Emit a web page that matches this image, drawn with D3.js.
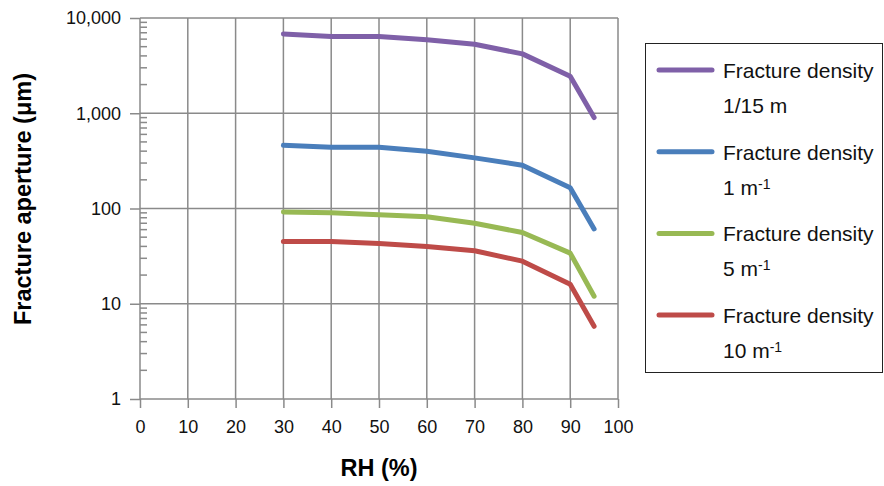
<!DOCTYPE html>
<html>
<head>
<meta charset="utf-8">
<script src="https://cdn.jsdelivr.net/npm/d3@7"></script>
<style>
  body { margin: 0; background: #fff; }
  svg { font-family: "Liberation Sans", Arial, sans-serif; }
</style>
</head>
<body>
<svg id="chart" width="884" height="486"></svg>
<script>
const rh = [30, 40, 50, 60, 70, 80, 90, 95];
const density15 = [6800, 6400, 6400, 5900, 5300, 4200, 2450, 900];
const density1 = [460, 440, 440, 400, 340, 285, 165, 61];
const density5 = [92, 90, 86, 82, 70, 56, 34, 12];
const density10 = [45, 45, 43, 40, 36, 28, 16, 5.8];
const xTicks = [0, 10, 20, 30, 40, 50, 60, 70, 80, 90, 100];
const yTicks = [1, 10, 100, 1000, 10000];

const series = [
  { name: "1/15 m", sup: "", values: density15, color: "#7F60A8" },
  { name: "1 m", sup: "-1", values: density1, color: "#4A7EBB" },
  { name: "5 m", sup: "-1", values: density5, color: "#98B954" },
  { name: "10 m", sup: "-1", values: density10, color: "#BE4B48" }
];

const svg = d3.select("#chart");
const margin = { top: 18, right: 266, bottom: 87, left: 140 };
const width = +svg.attr("width");
const height = +svg.attr("height");

const x = d3.scaleLinear().domain([0, 100]).range([margin.left, width - margin.right]);
const y = d3.scaleLog().domain([1, 10000]).range([height - margin.bottom, margin.top]);

const grid = "#8a8a8a";

// grid lines
svg.append("g").selectAll("line")
  .data(xTicks.slice(1))
  .enter().append("line")
  .attr("x1", d => x(d)).attr("x2", d => x(d))
  .attr("y1", y(10000)).attr("y2", y(1))
  .attr("stroke", grid).attr("stroke-width", 1.5);

svg.append("g").selectAll("line")
  .data(yTicks)
  .enter().append("line")
  .attr("x1", x(0)).attr("x2", x(100))
  .attr("y1", d => y(d)).attr("y2", d => y(d))
  .attr("stroke", grid).attr("stroke-width", 1.5);

// y axis
const yAxis = svg.append("g")
  .attr("transform", `translate(${x(0)},0)`)
  .call(d3.axisLeft(y).tickValues(yTicks).tickFormat(d3.format(",")).tickSize(10).tickPadding(9));
yAxis.select(".domain").remove();
yAxis.append("line").attr("x1", 0).attr("x2", 0).attr("y1", y(10000)).attr("y2", y(1))
  .attr("stroke", grid).attr("stroke-width", 1.5);

// minor ticks inside
const minor = [];
for (let p = 1; p < 10000; p *= 10) for (let k = 2; k <= 9; k++) minor.push(p * k);
yAxis.selectAll("line.minor").data(minor).enter().append("line")
  .attr("class", "minor")
  .attr("x1", 0).attr("x2", 7)
  .attr("y1", d => y(d)).attr("y2", d => y(d))
  .attr("stroke", grid).attr("stroke-width", 1.5);

// x axis
const xAxis = svg.append("g")
  .attr("transform", `translate(0,${y(1)})`)
  .call(d3.axisBottom(x).tickValues(xTicks).tickSize(9).tickPadding(12));
xAxis.select(".domain").remove();

svg.selectAll(".tick line").attr("stroke", grid).attr("stroke-width", 1.5);
svg.selectAll(".tick text").attr("fill", "#111").style("font-size", "18px");

// lines
const line = d3.line().x((d, i) => x(rh[i])).y(d => y(d));
series.forEach(s => {
  svg.append("path")
    .datum(s.values)
    .attr("d", line)
    .attr("fill", "none")
    .attr("stroke", s.color)
    .attr("stroke-width", 5)
    .attr("stroke-linecap", "round")
    .attr("stroke-linejoin", "round");
});

// axis titles
svg.append("text")
  .attr("transform", "translate(31,199) rotate(-90)")
  .attr("text-anchor", "middle")
  .style("font-size", "23.5px").style("font-weight", "bold")
  .text("Fracture aperture (μm)");

svg.append("text")
  .attr("x", x(50)).attr("y", 476)
  .attr("text-anchor", "middle")
  .style("font-size", "23.5px").style("font-weight", "bold")
  .text("RH (%)");

// legend
const legend = svg.append("g");
legend.append("rect")
  .attr("x", 645.5).attr("y", 43.5).attr("width", 237).attr("height", 329)
  .attr("fill", "#fff").attr("stroke", "#222").attr("stroke-width", 1);

series.forEach((s, i) => {
  const ly = 70 + i * 81.7;
  legend.append("line")
    .attr("x1", 659).attr("x2", 712).attr("y1", ly).attr("y2", ly)
    .attr("stroke", s.color).attr("stroke-width", 5).attr("stroke-linecap", "round");
  legend.append("text")
    .attr("x", 723).attr("y", ly + 8)
    .style("font-size", "21px").attr("fill", "#111")
    .text("Fracture density");
  const t = legend.append("text")
    .attr("x", 723).attr("y", ly + 43)
    .style("font-size", "21px").attr("fill", "#111")
    .text(s.name);
  if (s.sup) {
    t.append("tspan").attr("dy", -6).style("font-size", "14px").text(s.sup);
  }
});
</script>
</body>
</html>
